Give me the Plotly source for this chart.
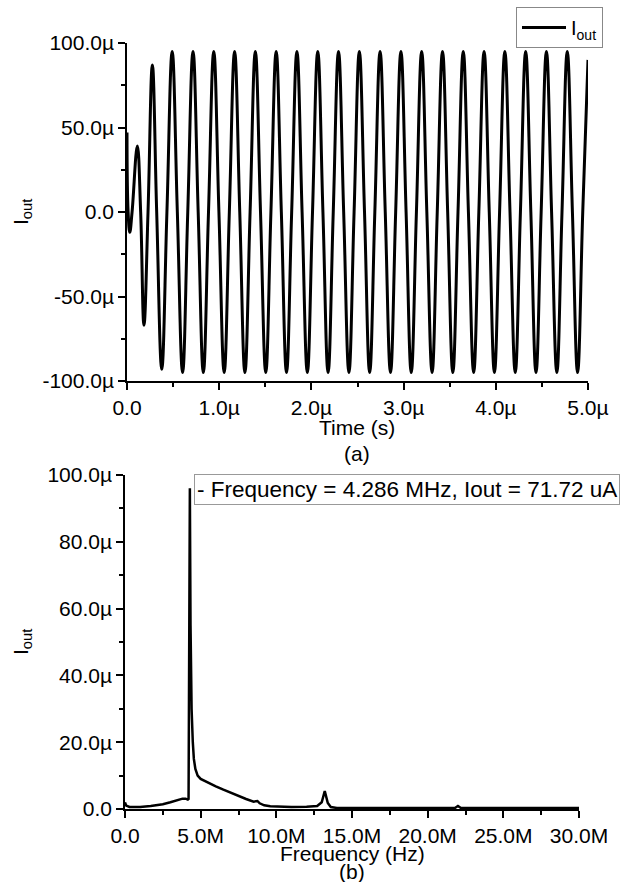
import plotly.graph_objects as go

# ---------------- data ----------------
# (a) time-domain output current: time in µs, current in µA (read at extrema / zero crossings)
time_us = [0.000, 0.012, 0.030, 0.055, 0.112, 0.148, 0.184, 0.228, 0.275, 0.322,
           0.377, 0.433, 0.490, 0.546, 0.603, 0.659, 0.716, 0.772, 0.828, 0.884,
           0.941, 0.997, 1.054, 1.110, 1.167, 1.223, 1.279, 1.335, 1.392, 1.448,
           1.505, 1.561, 1.618, 1.674, 1.730, 1.786, 1.843, 1.899, 1.956, 2.012,
           2.069, 2.125, 2.181, 2.237, 2.294, 2.350, 2.407, 2.463, 2.520, 2.576,
           2.632, 2.688, 2.745, 2.801, 2.858, 2.914, 2.971, 3.027, 3.083, 3.139,
           3.196, 3.252, 3.309, 3.365, 3.422, 3.478, 3.534, 3.590, 3.647, 3.703,
           3.760, 3.816, 3.873, 3.929, 3.985, 4.041, 4.098, 4.154, 4.211, 4.267,
           4.324, 4.380, 4.436, 4.492, 4.549, 4.605, 4.662, 4.718, 4.775, 4.831,
           4.887, 4.943, 5.000]
iout_uA = [47, 0, -12, 0, 39, 0, -67, 0, 87, 0,
           -93, 0, 95, 0, -95, 0, 95, 0, -95, 0,
           95, 0, -95, 0, 95, 0, -95, 0, 95, 0,
           -95, 0, 95, 0, -95, 0, 95, 0, -95, 0,
           95, 0, -95, 0, 95, 0, -95, 0, 95, 0,
           -95, 0, 95, 0, -95, 0, 95, 0, -95, 0,
           95, 0, -95, 0, 95, 0, -95, 0, 95, 0,
           -95, 0, 95, 0, -95, 0, 95, 0, -95, 0,
           95, 0, -95, 0, 95, 0, -95, 0, 95, 0,
           -95, 0, 90]

# (b) spectrum: frequency in MHz, amplitude in µA
freq_MHz = [0.0, 0.08, 0.3, 1.0, 1.7, 2.5, 3.0, 3.5, 3.8, 4.0, 4.15, 4.2, 4.24,
            4.286, 4.33, 4.40, 4.48, 4.55, 4.65, 4.8, 5.0, 5.5, 6.0, 6.5, 7.0,
            7.5, 8.0, 8.5, 8.75, 8.9, 9.2, 9.6, 10.0, 11.0, 12.0, 12.7, 13.0,
            13.2, 13.4, 13.6, 14.0, 15.0, 16.0, 18.0, 20.0, 21.8, 22.0, 22.2,
            25.0, 28.0, 30.0]
spec_uA = [2.0, 1.0, 0.6, 0.6, 0.9, 1.4, 2.0, 2.7, 3.1, 3.1, 2.8, 3.0, 40,
           96, 55, 30, 20, 15, 12, 10, 9.0, 7.8, 6.8, 5.8, 4.8,
           3.9, 3.0, 2.2, 2.4, 1.7, 1.1, 0.8, 0.7, 0.6, 0.7, 0.9, 2.0,
           5.4, 1.8, 0.6, 0.3, 0.4, 0.3, 0.3, 0.3, 0.3, 0.9, 0.3,
           0.3, 0.3, 0.3]

# tick labels
t_tickvals = [0, 1, 2, 3, 4, 5]
t_ticktext = ["0.0", "1.0\u00b5", "2.0\u00b5", "3.0\u00b5", "4.0\u00b5", "5.0\u00b5"]
t_minor = [0.5, 1.5, 2.5, 3.5, 4.5]
ia_tickvals = [-100, -50, 0, 50, 100]
ia_ticktext = ["-100.0\u00b5", "-50.0\u00b5", "0.0", "50.0\u00b5", "100.0\u00b5"]
ia_minor = [-75, -25, 25, 75]
f_tickvals = [0, 5, 10, 15, 20, 25, 30]
f_ticktext = ["0.0", "5.0M", "10.0M", "15.0M", "20.0M", "25.0M", "30.0M"]
f_minor = [2.5, 7.5, 12.5, 17.5, 22.5, 27.5]
ib_tickvals = [0, 20, 40, 60, 80, 100]
ib_ticktext = ["0.0", "20.0\u00b5", "40.0\u00b5", "60.0\u00b5", "80.0\u00b5", "100.0\u00b5"]
ib_minor = [10, 30, 50, 70, 90]

annot_text = "- Frequency = 4.286 MHz, Iout = 71.72 uA"

# ---------------- figure ----------------
W, H = 624, 882
FONT = "Liberation Sans, Arial, sans-serif"
FS = 21

def px_x(p):
    return p / W

def px_y(p):
    return 1 - p / H

fig = go.Figure()
fig.add_trace(go.Scatter(x=time_us, y=iout_uA, mode="lines", name="I<sub>out</sub>",
                         line=dict(color="black", width=3, shape="spline", smoothing=1.2),
                         xaxis="x", yaxis="y", showlegend=True))
fig.add_trace(go.Scatter(x=freq_MHz, y=spec_uA, mode="lines", name="spec",
                         line=dict(color="black", width=2.5),
                         xaxis="x2", yaxis="y2", showlegend=False))

def axis(domain, rng, tv, tt, mv, anchor):
    return dict(domain=domain, range=rng, anchor=anchor, automargin=False,
                tickmode="array", tickvals=tv, ticktext=tt,
                ticks="outside", ticklen=7, tickwidth=1.5, tickcolor="black",
                minor=dict(tickmode="array", tickvals=mv, ticks="outside",
                           ticklen=4, tickwidth=1.5, tickcolor="black"),
                showline=True, linecolor="black", linewidth=1.5,
                showgrid=False, zeroline=False, mirror=False,
                tickfont=dict(family=FONT, size=FS, color="black"))

fig.update_layout(
    template="none",
    width=W, height=H,
    margin=dict(l=0, r=0, t=0, b=0, pad=0),
    paper_bgcolor="white", plot_bgcolor="white",
    font=dict(family=FONT, size=FS, color="black"),
    xaxis=axis([px_x(127), px_x(588)], [0, 5], t_tickvals, t_ticktext, t_minor, "y"),
    yaxis=axis([px_y(381), px_y(43)], [-100, 100], ia_tickvals, ia_ticktext, ia_minor, "x"),
    xaxis2=axis([px_x(125), px_x(579)], [0, 30], f_tickvals, f_ticktext, f_minor, "y2"),
    yaxis2=axis([px_y(809), px_y(475)], [0, 100], ib_tickvals, ib_ticktext, ib_minor, "x2"),
    legend=dict(x=px_x(603), y=px_y(7), xanchor="right", yanchor="top",
                bordercolor="#888888", borderwidth=1, bgcolor="white",
                font=dict(family=FONT, size=20, color="black"),
                tracegroupgap=0, itemwidth=44),
    showlegend=True,
)

ann = [
    dict(text="Time (s)", x=px_x(357), y=px_y(427)),
    dict(text="(a)", x=px_x(357), y=px_y(453)),
    dict(text="Frequency (Hz)", x=px_x(352), y=px_y(853)),
    dict(text="(b)", x=px_x(352), y=px_y(871)),
    dict(text="I<sub>out</sub>", x=px_x(22), y=px_y(212), textangle=-90),
    dict(text="I<sub>out</sub>", x=px_x(22), y=px_y(642), textangle=-90),
]
for a in ann:
    fig.add_annotation(xref="paper", yref="paper", showarrow=False,
                       xanchor="center", yanchor="middle",
                       font=dict(family=FONT, size=FS, color="black"), **a)

fig.add_annotation(xref="paper", yref="paper", x=px_x(194), y=px_y(474),
                   xanchor="left", yanchor="top", showarrow=False,
                   text=annot_text, align="left",
                   font=dict(family=FONT, size=22.5, color="black"),
                   bordercolor="#999999", borderwidth=1, borderpad=2, bgcolor="white")

fig.write_html("out.html",
               config={"displayModeBar": False},
               post_script="document.body.style.margin='0';document.body.style.overflow='hidden';")
